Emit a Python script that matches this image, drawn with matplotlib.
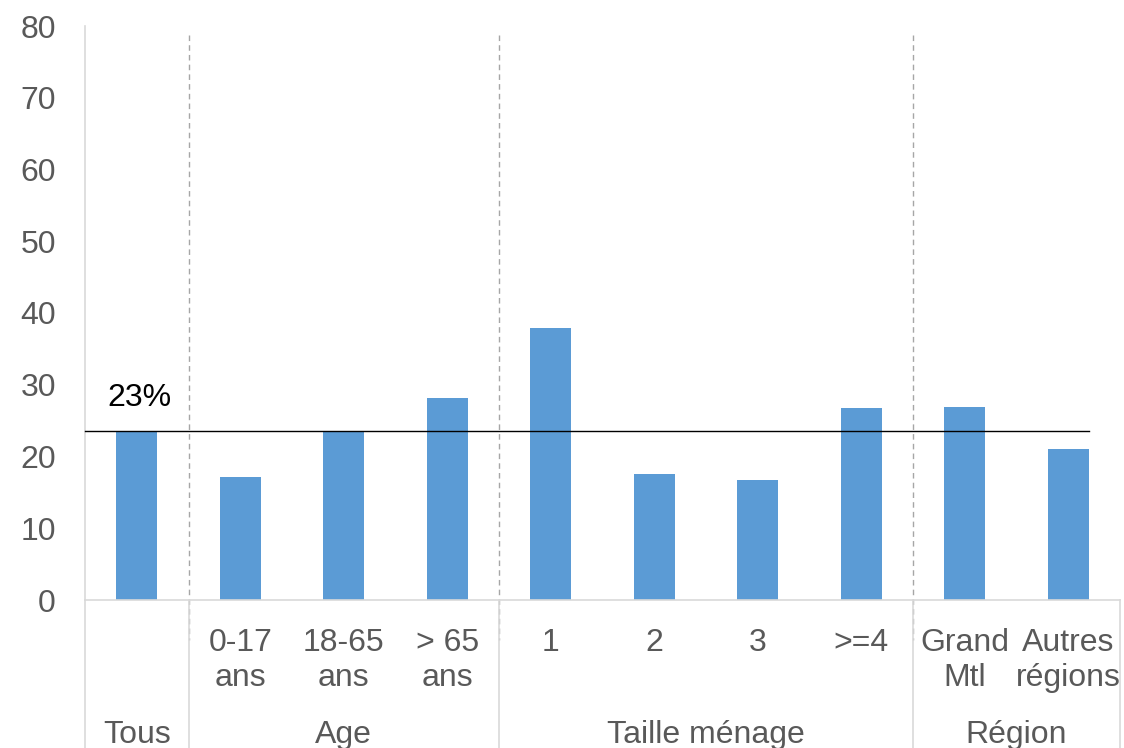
import matplotlib
matplotlib.use("Agg")
import matplotlib.pyplot as plt

categories = ["", "0-17\nans", "18-65\nans", "> 65\nans", "1", "2", "3", ">=4", "Grand\nMtl", "Autres\nrégions"]
values = [23.6, 17.1, 23.6, 28.2, 37.9, 17.6, 16.7, 26.8, 26.9, 21.0]
groups = ["Tous", "Age", "Taille ménage", "Région"]
group_spans = [(0, 0), (1, 3), (4, 7), (8, 9)]
ref_value = 23.6
ref_label = "23%"
yticks = [0, 10, 20, 30, 40, 50, 60, 70, 80]

plt.rcParams['font.family'] = ['Liberation Sans', 'DejaVu Sans']
W, H = 1124, 748
fig = plt.figure(figsize=(W / 100, H / 100), dpi=100)
left, right, top, bottom = 85, 1120, 26, 600
ax = fig.add_axes([left / W, 1 - bottom / H, (right - left) / W, (bottom - top) / H])

gray = "#595959"
linegray = "#D9D9D9"
fs = 23
x = list(range(len(categories)))
ax.bar(x, values, width=0.4, color="#5B9BD5", zorder=2)
ax.set_xlim(-0.5, len(categories) - 0.5)
ax.set_ylim(0, 80)
ax.set_yticks(yticks)
ax.tick_params(axis='y', length=0, pad=21, labelsize=fs, labelcolor=gray)
ax.set_xticks([])
for s in ["top", "right"]:
    ax.spines[s].set_visible(False)
ax.spines["left"].set_color(linegray)
ax.spines["bottom"].set_color(linegray)
ax.spines["left"].set_linewidth(1.2)
ax.spines["bottom"].set_linewidth(1.2)

xt = ax.get_xaxis_transform()
ph = bottom - top

def ay(py):
    return (bottom - py) / ph

# category labels
for xi, lab in zip(x, categories):
    parts = lab.split("\n")
    ax.text(xi, ay(643), parts[0], transform=xt, ha='center', va='center',
            fontsize=fs, color=gray)
    if len(parts) > 1:
        ax.text(xi, ay(678), parts[1], transform=xt, ha='center', va='center',
                fontsize=fs, color=gray)

# group labels and separators
for g, (a, b) in zip(groups, group_spans):
    ax.text((a + b) / 2, ay(735), g, transform=xt, ha='center', va='center', fontsize=fs, color=gray)

seps = [0.5, 3.5, 7.5]
for s in seps:
    ax.plot([s, s], [ay(35), ay(640)], transform=xt, color="#A6A6A6", lw=1, ls=(0, (4, 3)),
            clip_on=False, zorder=1)
for s in [-0.5] + seps + [len(categories) - 0.5]:
    ax.plot([s, s], [ay(600), ay(748)], transform=xt, color=linegray, lw=1.2, clip_on=False, zorder=1)

# reference line
ax.plot([-0.5, 9.2], [ref_value, ref_value], color="black", lw=1, zorder=3, clip_on=False)
ax.text(0.03, ref_value + 2.5, ref_label, ha='center', va='bottom', fontsize=fs, color="black")

fig.savefig("out.png", dpi=100)
